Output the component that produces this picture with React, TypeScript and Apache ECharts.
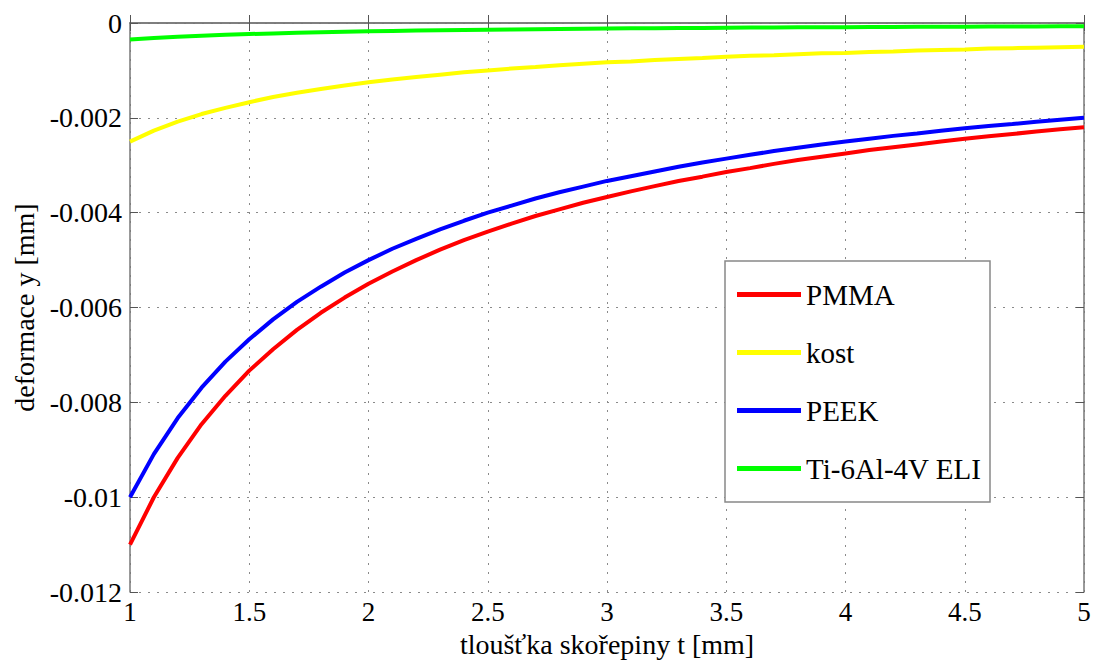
import React, { useEffect, useRef } from "react";
import * as echarts from "echarts";

const thickness = [1.0,1.1,1.2,1.3,1.4,1.5,1.6,1.7,1.8,1.9,2.0,2.1,2.2,2.3,2.4,2.5,2.6,2.7,2.8,2.9,3.0,3.1,3.2,3.3,3.4,3.5,3.6,3.7,3.8,3.9,4.0,4.1,4.2,4.3,4.4,4.5,4.6,4.7,4.8,4.9,5.0];

const pmma = [-0.011,-0.0100,-0.00917,-0.00846,-0.00786,-0.00733,-0.00688,-0.00647,-0.00611,-0.00579,-0.0055,-0.00524,-0.0050,-0.00478,-0.00458,-0.0044,-0.00423,-0.00407,-0.00393,-0.00379,-0.00367,-0.00355,-0.00344,-0.00333,-0.00324,-0.00314,-0.00306,-0.00297,-0.00289,-0.00282,-0.00275,-0.00268,-0.00262,-0.00256,-0.0025,-0.00244,-0.00239,-0.00234,-0.00229,-0.00224,-0.0022];

const kost = [-0.0025,-0.00227,-0.00208,-0.00192,-0.00179,-0.00167,-0.00156,-0.00147,-0.00139,-0.00132,-0.00125,-0.00119,-0.00114,-0.00109,-0.00104,-0.001,-0.00096,-0.00093,-0.00089,-0.00086,-0.00083,-0.00081,-0.00078,-0.00076,-0.00074,-0.00071,-0.00069,-0.00068,-0.00066,-0.00064,-0.00063,-0.00061,-0.0006,-0.00058,-0.00057,-0.00056,-0.00054,-0.00053,-0.00052,-0.00051,-0.0005];

const peek = [-0.01,-0.00909,-0.00833,-0.00769,-0.00714,-0.00667,-0.00625,-0.00588,-0.00556,-0.00526,-0.005,-0.00476,-0.00455,-0.00435,-0.00417,-0.004,-0.00385,-0.0037,-0.00357,-0.00345,-0.00333,-0.00323,-0.00313,-0.00303,-0.00294,-0.00286,-0.00278,-0.0027,-0.00263,-0.00256,-0.0025,-0.00244,-0.00238,-0.00233,-0.00227,-0.00222,-0.00217,-0.00213,-0.00208,-0.00204,-0.002];

const titan = [-0.00035,-0.000318,-0.000292,-0.000269,-0.00025,-0.000233,-0.000219,-0.000206,-0.000194,-0.000184,-0.000175,-0.000167,-0.000159,-0.000152,-0.000146,-0.00014,-0.000135,-0.00013,-0.000125,-0.000121,-0.000117,-0.000113,-0.000109,-0.000106,-0.000103,-0.0001,-0.000097,-0.000095,-0.000092,-0.00009,-0.000088,-0.000085,-0.000083,-0.000081,-0.00008,-0.000078,-0.000076,-0.000074,-0.000073,-0.000071,-0.00007];

const seriesNames = ["PMMA", "kost", "PEEK", "Ti-6Al-4V ELI"];
const seriesColors = ["#ff0000", "#ffff00", "#0000ff", "#00ff00"];
const seriesValues = [pmma, kost, peek, titan];

const FONT = "'Liberation Serif', 'Times New Roman', serif";

export default function App() {
  const ref = useRef<HTMLDivElement>(null);
  useEffect(() => {
    if (!ref.current) return;
    const chart = echarts.init(ref.current, null, { renderer: "svg" });
    const gridLine = { show: true, lineStyle: { color: "#8a8a8a", type: [2, 7] as any, width: 1 } };
    const frameLine = { show: true, lineStyle: { color: "#777777", width: 1.5 } };
    chart.setOption({
      animation: false,
      backgroundColor: "#ffffff",
      textStyle: { fontFamily: FONT },
      grid: { left: 130, right: 10, top: 23, bottom: 70, containLabel: false },
      xAxis: [
        {
          type: "value",
          min: 1,
          max: 5,
          interval: 0.5,
          position: "bottom",
          name: "tloušťka skořepiny t [mm]",
          nameLocation: "middle",
          nameGap: 33,
          nameTextStyle: { fontFamily: FONT, fontSize: 28, color: "#000" },
          axisLine: frameLine,
          axisTick: { show: true, inside: true, length: 8, lineStyle: { color: "#555" } },
          axisLabel: { fontFamily: FONT, fontSize: 27, color: "#000", margin: 6 },
          splitLine: gridLine,
        },
        {
          type: "value",
          min: 1,
          max: 5,
          interval: 0.5,
          position: "top",
          axisLine: frameLine,
          axisTick: { show: true, inside: true, length: 8, lineStyle: { color: "#555" } },
          axisLabel: { show: false },
          splitLine: { show: false },
        },
      ],
      yAxis: [
        {
          type: "value",
          min: -0.012,
          max: 0,
          interval: 0.002,
          position: "left",
          name: "deformace y [mm]",
          nameLocation: "middle",
          nameGap: 92,
          nameTextStyle: { fontFamily: FONT, fontSize: 28, color: "#000" },
          axisLine: frameLine,
          axisTick: { show: true, inside: true, length: 8, lineStyle: { color: "#555" } },
          axisLabel: {
            fontFamily: FONT,
            fontSize: 28,
            color: "#000",
            margin: 8,
            formatter: (v: number) => (Math.abs(v) < 1e-12 ? "0" : String(Number(v.toFixed(4)))),
          },
          splitLine: gridLine,
        },
        {
          type: "value",
          min: -0.012,
          max: 0,
          interval: 0.002,
          position: "right",
          axisLine: frameLine,
          axisTick: { show: true, inside: true, length: 8, lineStyle: { color: "#555" } },
          axisLabel: { show: false },
          splitLine: { show: false },
        },
      ],
      legend: {
        orient: "vertical",
        left: 737,
        top: 279,
        itemWidth: 64,
        itemHeight: 5,
        itemGap: 27,
        icon: "rect",
        padding: 0,
        textStyle: { fontFamily: FONT, fontSize: 29, color: "#000", lineHeight: 31, padding: [0, 0, 0, 0] },
        data: seriesNames,
        z: 10,
      },
      graphic: [
        {
          type: "rect",
          shape: { x: 725, y: 261, width: 265, height: 241 },
          style: { fill: "#ffffff", stroke: "#888888", lineWidth: 1.5 },
          z: 5,
        },
      ],
      series: seriesNames.map((name, i) => ({
        name,
        type: "line",
        xAxisIndex: 0,
        yAxisIndex: 0,
        showSymbol: false,
        symbol: "none",
        smooth: false,
        color: seriesColors[i],
        lineStyle: { width: 4, color: seriesColors[i] },
        data: thickness.map((t, k) => [t, seriesValues[i][k]]),
      })),
    });
    return () => chart.dispose();
  }, []);
  return (
    <div
      ref={ref}
      style={{ position: "fixed", left: 0, top: 0, width: 1094, height: 663, background: "#fff" }}
    />
  );
}
